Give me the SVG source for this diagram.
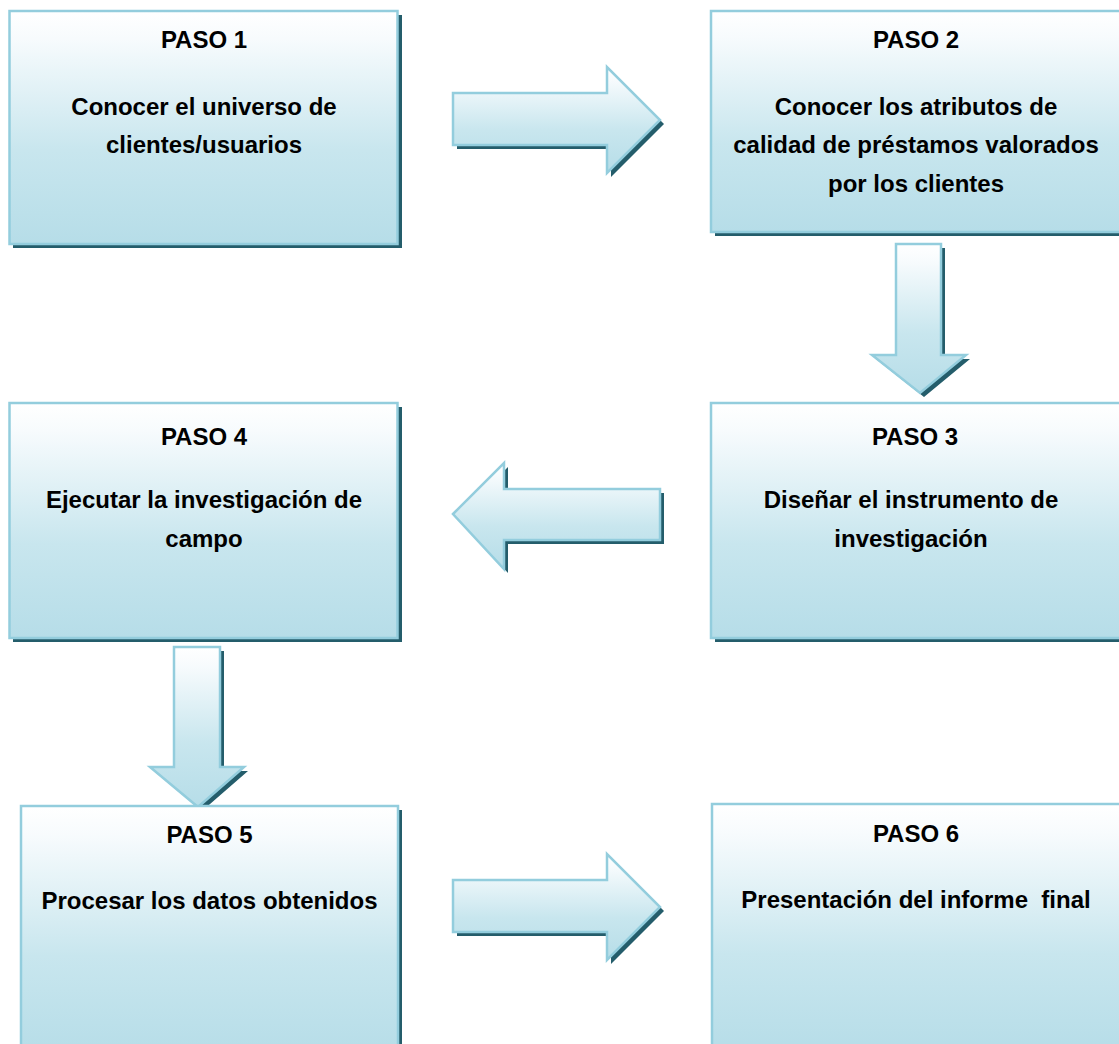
<svg xmlns="http://www.w3.org/2000/svg" width="1119" height="1044" viewBox="0 0 1119 1044">
<defs>
<linearGradient id="g" x1="0" y1="0" x2="0" y2="1">
<stop offset="0" stop-color="#ffffff"/>
<stop offset="0.12" stop-color="#f7fbfd"/>
<stop offset="0.6" stop-color="#c8e6ee"/>
<stop offset="1" stop-color="#b6dde8"/>
</linearGradient>
<style>
.sh{fill:#245d6b}
.bx{fill:url(#g);stroke:#93cddd;stroke-width:2.5}
.t{font-family:"Liberation Sans",Arial,sans-serif;font-weight:bold;font-size:24px;fill:#000;text-anchor:middle}
</style>
</defs>

<g id="connectors">
  <g id="a1">
    <path class="sh" d="M457,97 H611 V71 L664,124 L611,177 V149 H457 Z"/>
    <path class="bx" d="M453,93 H607 V67 L660,120 L607,173 V145 H453 Z"/>
  </g>
  <g id="a2">
    <path class="sh" d="M900,248 H945 V359 H970 L924,397 L876,359 H900 Z"/>
    <path class="bx" d="M896,244 H941 V355 H966 L920,393 L872,355 H896 Z"/>
  </g>
  <g id="a3">
    <path class="sh" d="M457,518 L508,467 V493 H664 V544 H508 V573 Z"/>
    <path class="bx" d="M453,514 L504,463 V489 H660 V540 H504 V569 Z"/>
  </g>
  <g id="a4">
    <path class="sh" d="M178,651 H224 V771 H248 L202,811 L154,771 H178 Z"/>
    <path class="bx" d="M174,647 H220 V767 H244 L198,807 L150,767 H174 Z"/>
  </g>
  <g id="a5">
    <path class="sh" d="M457,884 H611 V858 L664,911 L611,964 V936 H457 Z"/>
    <path class="bx" d="M453,880 H607 V854 L660,907 L607,960 V932 H453 Z"/>
  </g>
</g>

<g id="paso1">
  <rect class="sh" x="13" y="15" width="389" height="233"/>
  <rect class="bx" x="9.5" y="11" width="388" height="233"/>
  <text class="t" x="204" y="48">PASO 1</text>
  <text class="t" x="204" y="115">Conocer el universo de</text>
  <text class="t" x="204" y="153">clientes/usuarios</text>
</g>

<g id="paso2">
  <rect class="sh" x="715" y="15" width="412" height="221"/>
  <rect class="bx" x="711" y="11" width="411" height="221"/>
  <text class="t" x="916" y="48">PASO 2</text>
  <text class="t" x="916" y="115">Conocer los atributos de</text>
  <text class="t" x="916" y="153">calidad de préstamos valorados</text>
  <text class="t" x="916" y="192">por los clientes</text>
</g>

<g id="paso3">
  <rect class="sh" x="715" y="407" width="412" height="235"/>
  <rect class="bx" x="711" y="403" width="411" height="235"/>
  <text class="t" x="915" y="445">PASO 3</text>
  <text class="t" x="911" y="508">Diseñar el instrumento de</text>
  <text class="t" x="911" y="547">investigación</text>
</g>

<g id="paso4">
  <rect class="sh" x="13" y="407" width="389" height="235"/>
  <rect class="bx" x="9.5" y="403" width="388" height="235"/>
  <text class="t" x="204" y="445">PASO 4</text>
  <text class="t" x="204" y="508">Ejecutar la investigación de</text>
  <text class="t" x="204" y="547">campo</text>
</g>

<g id="paso5">
  <rect class="sh" x="25" y="810" width="377" height="250"/>
  <rect class="bx" x="21" y="806" width="377" height="250"/>
  <text class="t" x="209.5" y="843">PASO 5</text>
  <text class="t" x="209.5" y="909">Procesar los datos obtenidos</text>
</g>

<g id="paso6">
  <rect class="sh" x="716" y="808" width="412" height="250"/>
  <rect class="bx" x="712" y="804" width="411" height="250"/>
  <text class="t" x="916" y="842">PASO 6</text>
  <text class="t" x="916" y="908" xml:space="preserve">Presentación del informe  final</text>
</g>
</svg>
